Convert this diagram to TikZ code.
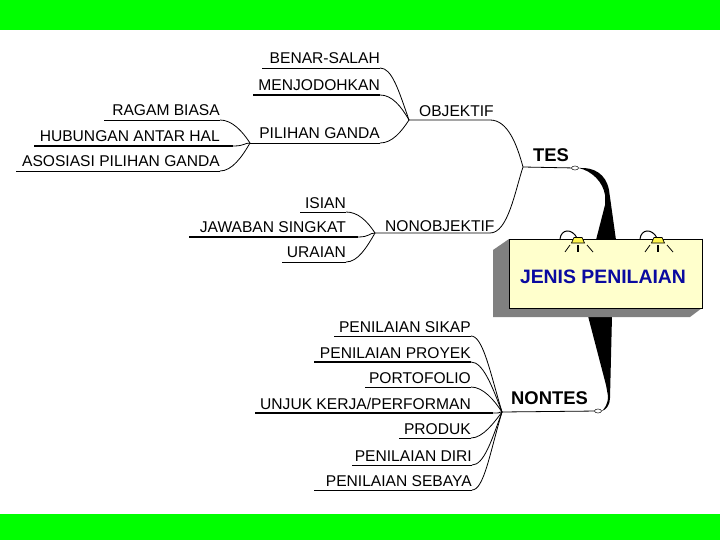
\documentclass[tikz,border=0pt]{standalone}
\usepackage{fontspec}
\setmainfont{Liberation Sans}
\usepackage{tikz}
\usetikzlibrary{shapes.geometric, calc}
\definecolor{barGreen}{RGB}{0,255,0}
\definecolor{boxYellow}{RGB}{255,255,204}
\definecolor{titleBlue}{RGB}{10,10,160}
\tikzset{
  leaf/.style={anchor=base east, inner sep=0pt, font=\fontsize{15.6}{17}\selectfont},
  branch/.style={anchor=base west, inner sep=0pt, font=\fontsize{15.6}{17}\selectfont},
  mainlabel/.style={anchor=base west, inner sep=0pt, font=\fontsize{18.4}{20}\selectfont\bfseries},
  knob/.style={draw, ellipse, fill=white, inner sep=0pt, minimum width=7pt, minimum height=4pt, line width=.5pt},
  thin line/.style={line width=.8pt},
  thick line/.style={line width=2pt}
}
\begin{document}
\begin{tikzpicture}[x=1pt,y=-1pt]
\useasboundingbox (0,0) rectangle (720,540);
\fill[barGreen] (0,0) rectangle (720,30);
\fill[barGreen] (0,514) rectangle (720,540);

\coordinate (hubObjektif) at (409,120);
\coordinate (hubPilihan) at (250,143);
\coordinate (hubNonobj) at (375,233);
\coordinate (hubTes) at (523,167);
\coordinate (hubNontes) at (502,412);

% name / text / left / text right / line end / y / hub / control / width
\foreach \id/\txt/\xl/\xr/\xe/\y/\hub/\cdy/\lw in {
  benar/BENAR-SALAH/262/380/380/68/hubObjektif/-30/thin line,
  jodoh/MENJODOHKAN/253/380/380/95/hubObjektif/-14/thick line,
  pilihan/PILIHAN GANDA/250/380/380/143/hubObjektif/12/thin line,
  ragam/RAGAM BIASA/104/220/220/120/hubPilihan/-12/thin line,
  hubungan/HUBUNGAN ANTAR HAL/34/220/233/146/hubPilihan/0/thick line,
  asosiasi/ASOSIASI PILIHAN GANDA/16/220/220/171/hubPilihan/14/thin line,
  isian/ISIAN/300/346/346/212/hubNonobj/-12/thin line,
  jawaban/JAWABAN SINGKAT/189/346/358/237/hubNonobj/0/thick line,
  uraian/URAIAN/282/346/346/262/hubNonobj/14/thin line,
  sikap/PENILAIAN SIKAP/334/471/471/336/hubNontes/-40/thin line,
  proyek/PENILAIAN PROYEK/314/471/471/362/hubNontes/-26/thick line,
  porto/PORTOFOLIO/365/471/471/387/hubNontes/-12/thin line,
  unjuk/{UNJUK KERJA/PERFORMAN}/255/471/493/413/hubNontes/0/thick line,
  produk/PRODUK/399/471/471/438/hubNontes/10/thin line,
  diri/PENILAIAN DIRI/352/472/472/465/hubNontes/28/thin line,
  sebaya/PENILAIAN SEBAYA/314/472/472/490/hubNontes/40/thin line}
{
  \coordinate (\id L) at (\xl,\y);
  \coordinate (\id R) at (\xe,\y);
  \node[leaf] (\id) at (\xr,\y-4) {\txt};
  \draw[\lw] (\id L) -- (\id R);
  \draw[thin line] (\id R) .. controls +(12,0) and +({-6-0.15*abs(\cdy)},\cdy) .. (\hub);
}

\node[branch] (objektif) at (419,117) {OBJEKTIF};
\node[branch] (nonobj) at (385,231) {NONOBJEKTIF};
\coordinate (objektifR) at (490,120);
\coordinate (nonobjR) at (490,233);
\draw[thin line] (hubObjektif) -- (objektifR) .. controls +(18,0) and +(-6,-22) .. (hubTes);
\draw[thin line] (hubNonobj) -- (nonobjR) .. controls +(18,0) and +(-8,24) .. (hubTes);

\node[mainlabel] (tes) at (533,162) {TES};
\node[mainlabel] (nontes) at (511,404) {NONTES};
\node[knob] (tesKnob) at (575,168) {};
\node[knob] (nontesKnob) at (598,411) {};
\draw[thin line] (hubTes) -- (tesKnob);
\draw[thin line] (hubNontes) -- (nontesKnob);

% wedges behind the box
\fill (tesKnob.east) .. controls (594,167) and (606,174) .. (609,190)
  -- (616,240) -- (596,240) -- (605,205) -- (605,195) .. controls (603,182) and (592,171) .. (tesKnob.east);
\fill (588,316) -- (612,316) -- (610,398) .. controls (610,405) and (606,410) .. (nontesKnob.east)
  .. controls (604,409) and (608,405) .. (608,396) -- (606,385) -- cycle;

% box with its shadow
\fill[gray] (509,239) -- (493,250) -- (493,317) -- (690,317) -- (702,308) -- (509,308) -- cycle;
\node[draw, fill=boxYellow, line width=.7pt, minimum width=193pt, minimum height=69pt, inner sep=0pt] (jenis) at (605.5,273.5) {};
\node[text=titleBlue, font=\fontsize{19.4}{21}\selectfont\bfseries, inner sep=0pt] (jenisText) at (603,277) {JENIS PENILAIAN};
\draw[line width=1.6pt] (jenis.north east) -- (jenis.south east) -- (jenis.south west);

% lamps
\foreach \lx in {578,658} {
  \draw[line width=1pt] (\lx-18,239) .. controls (\lx-17,229) and (\lx-6,228) .. (\lx-1,238);
  \fill[yellow!70!white, draw=black, line width=.7pt] (\lx-6.5,243) -- (\lx-4,237.5) -- (\lx+4,237.5) -- (\lx+6.5,243) -- cycle;
  \draw[line width=.8pt] (\lx-8,245) -- (\lx-13,252);
  \draw[line width=1.3pt] (\lx,245) -- (\lx,252);
  \draw[line width=.8pt] (\lx+9,245) -- (\lx+15,252);
}
\end{tikzpicture}
\end{document}
